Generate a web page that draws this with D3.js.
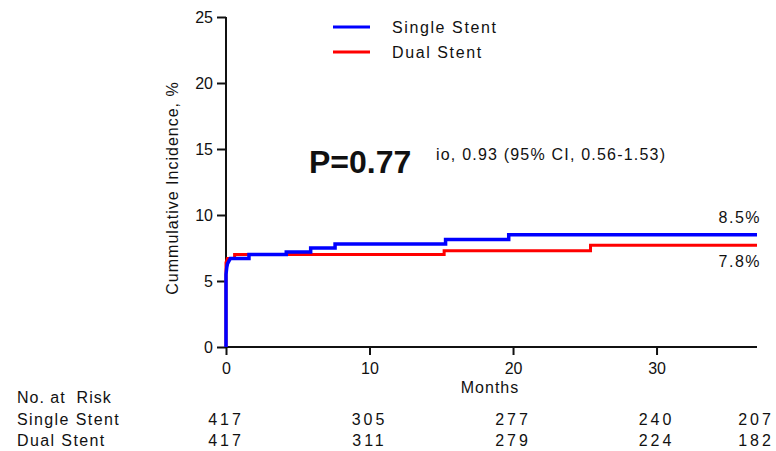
<!DOCTYPE html>
<html>
<head>
<meta charset="utf-8">
<script src="https://cdn.jsdelivr.net/npm/d3@7"></script>
<style>
  body { margin: 0; background: #fff; }
  text { font-family: "Liberation Sans", Arial, sans-serif; fill: #111; }
</style>
</head>
<body>
<script>
// step curves [month, cumulative incidence %]
const singleStent = [[0,0],[0,5.5],[0.05,6.0],[0.1,6.3],[0.2,6.5],[0.3,6.7],[1.6,6.7],[1.6,7.0],[4.2,7.0],[4.2,7.2],[5.9,7.2],[5.9,7.5],[7.6,7.5],[7.6,7.8],[15.3,7.8],[15.3,8.15],[19.7,8.15],[19.7,8.5],[37,8.5]];
const dualStent = [[0,0],[0,6.4],[0.1,6.7],[0.6,6.7],[0.6,7.0],[15.2,7.0],[15.2,7.3],[25.4,7.3],[25.4,7.7],[37,7.7]];
const riskTimes = [0, 10, 20, 30, 37];
const riskSingle = [417, 305, 277, 240, 207];
const riskDual = [417, 311, 279, 224, 182];
const xTicks = [0, 10, 20, 30];
const yTicks = [0, 5, 10, 15, 20, 25];

const w = 776, h = 451;
const svg = d3.select("body").append("svg").attr("width", w).attr("height", h);

const x = d3.scaleLinear().domain([0, 37]).range([226, 757]);
const y = d3.scaleLinear().domain([0, 25]).range([347, 17]);

const yAxis = d3.axisLeft(y).tickValues(yTicks).tickSize(9).tickPadding(4);
const xAxis = d3.axisBottom(x).tickValues(xTicks).tickSize(8).tickPadding(8);

const gy = svg.append("g").attr("transform", "translate(226,0)").call(yAxis);
const gx = svg.append("g").attr("transform", "translate(0,347)").call(xAxis);
[gx, gy].forEach(g => {
  g.select(".domain").attr("stroke", "#111").attr("stroke-width", 2);
  g.selectAll(".tick line").attr("stroke", "#111").attr("stroke-width", 2);
  g.selectAll(".tick text").style("font-family", "Liberation Sans, Arial, sans-serif")
    .style("font-size", "16px").attr("fill", "#111");
});
gy.select(".domain").attr("d", "M0,17V347");
gx.select(".domain").attr("d", "M226,0H757");

const line = d3.line().x(d => x(d[0])).y(d => y(d[1]));
svg.append("path").datum(dualStent).attr("d", line)
  .attr("fill", "none").attr("stroke", "#ff0000").attr("stroke-width", 3);
svg.append("path").datum(singleStent).attr("d", line)
  .attr("fill", "none").attr("stroke", "#0000ff").attr("stroke-width", 3.5);

// legend
const legend = [["Single Stent", "#0000ff", 27], ["Dual Stent", "#ff0000", 52]];
legend.forEach(([name, col, ly]) => {
  svg.append("line").attr("x1", 333).attr("x2", 370).attr("y1", ly).attr("y2", ly)
    .attr("stroke", col).attr("stroke-width", 3);
  svg.append("text").attr("x", 392).attr("y", ly + 6).text(name)
    .style("font-size", "16px").style("letter-spacing", "1.6px");
});

svg.append("text").attr("transform", "translate(178,188) rotate(-90)")
  .attr("text-anchor", "middle").text("Cummulative Incidence, %")
  .style("font-size", "16px").style("letter-spacing", "1px");

svg.append("text").attr("x", 309).attr("y", 173).text("P=0.77")
  .style("font-size", "32px").style("font-weight", "bold");
svg.append("text").attr("x", 436).attr("y", 160).text("io, 0.93 (95% CI, 0.56-1.53)")
  .style("font-size", "16px").style("letter-spacing", "1.2px");

svg.append("text").attr("x", 761).attr("y", 223).attr("text-anchor", "end").text("8.5%")
  .style("font-size", "16px").style("letter-spacing", "1.5px");
svg.append("text").attr("x", 761).attr("y", 267).attr("text-anchor", "end").text("7.8%")
  .style("font-size", "16px").style("letter-spacing", "1.5px");

svg.append("text").attr("x", 490).attr("y", 393).attr("text-anchor", "middle").text("Months")
  .style("font-size", "16px").style("letter-spacing", "1px");

// number at risk table
svg.append("text").attr("x", 17).attr("y", 403).text("No. at  Risk")
  .style("font-size", "16px").style("white-space", "pre").style("letter-spacing", "1px");
svg.append("text").attr("x", 17).attr("y", 425).text("Single Stent")
  .style("font-size", "16px").style("letter-spacing", "1.4px");
svg.append("text").attr("x", 17).attr("y", 446).text("Dual Stent")
  .style("font-size", "16px").style("letter-spacing", "1.4px");

[[riskSingle, 425], [riskDual, 446]].forEach(([vals, ry]) => {
  svg.append("g").selectAll("text").data(vals).enter().append("text")
    .attr("x", (d, i) => Math.min(x(riskTimes[i]), 756))
    .attr("y", ry).attr("text-anchor", "middle").text(d => d)
    .style("font-size", "16px").style("letter-spacing", "3px");
});
</script>
</body>
</html>
